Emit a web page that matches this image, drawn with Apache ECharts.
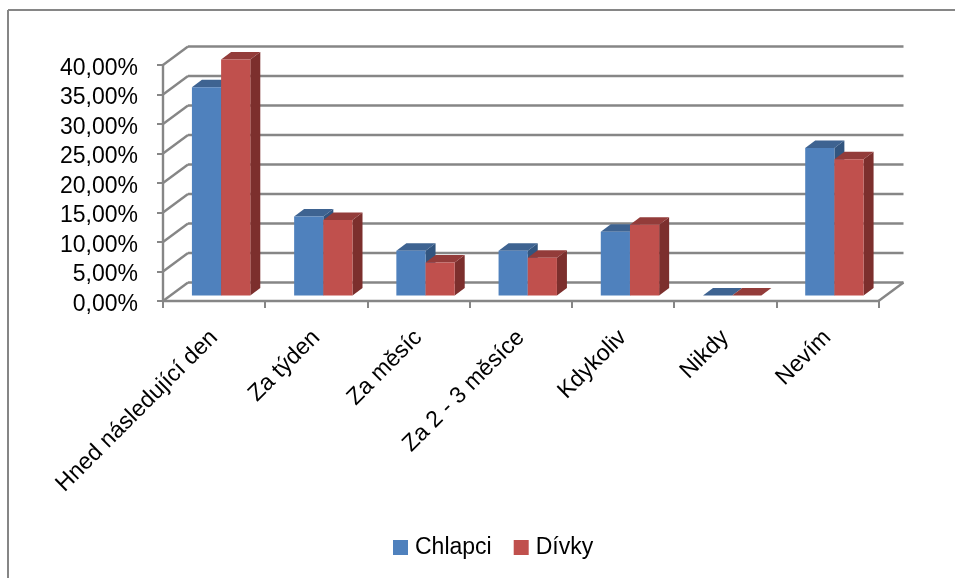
<!DOCTYPE html>
<html>
<head>
<meta charset="utf-8">
<script src="https://cdn.jsdelivr.net/npm/echarts@6/dist/echarts.min.js"></script>
<style>
html,body{margin:0;padding:0;background:#fff}
#chart{width:955px;height:578px}
</style>
</head>
<body>
<div id="chart"></div>
<script>
// Answer shares per time frame, in percent
const categories = ['Hned následující den', 'Za týden', 'Za měsíc', 'Za 2 - 3 měsíce', 'Kdykoliv', 'Nikdy', 'Nevím'];
const chlapci = [35.3, 13.4, 7.6, 7.6, 10.8, 0, 25.0];
const divky = [40.0, 12.8, 5.6, 6.4, 12.0, 0, 23.1];
const yTicks = [0, 5, 10, 15, 20, 25, 30, 35, 40];

// Pseudo-3D projection, in pixels
const WALL_DX = 25, WALL_DY = -18.5;   // front plane to back wall
const BAR_DX = 7, BAR_DY = -5.5;       // front plane to front of the bars
const DEPTH_DX = 10, DEPTH_DY = -7.5;  // depth of a bar
const BAR_SHARE = 0.2855;              // bar width as a share of the category band

const GREY = '#868686';
const FONT = '"Liberation Sans", Arial, sans-serif';
const faces = {
  Chlapci: { front: '#4F81BD', top: '#3E6391', side: '#32557F' },
  'Dívky': { front: '#C0504D', top: '#933C3A', side: '#7C2F2D' }
};

function poly(points, fill) {
  return { type: 'polygon', shape: { points }, style: { fill, stroke: null } };
}

// Slanted side-wall segment and back-wall gridline for one tick
function renderWall(params, api) {
  const p = api.coord([0, api.value(0)]);
  const sys = params.coordSys;
  const y = p[1];
  const line = (x1, y1, x2, y2) => ({
    type: 'line',
    shape: { x1, y1, x2, y2 },
    style: { stroke: GREY, lineWidth: 2.4 }
  });
  const kids = [
    line(sys.x, y, sys.x + WALL_DX, y + WALL_DY),
    line(sys.x + WALL_DX, y + WALL_DY, sys.x + sys.width + WALL_DX, y + WALL_DY)
  ];
  if (params.dataIndex === 0) {
    kids.push(line(sys.x + sys.width, y, sys.x + sys.width + WALL_DX, y + WALL_DY));
  }
  return { type: 'group', children: kids };
}

// One cuboid bar: side, top and front faces
function barRenderer(name, slot) {
  const c = faces[name];
  return function (params, api) {
    const i = api.value(0);
    const top = api.coord([i, api.value(1)]);
    const base = api.coord([i, 0]);
    const w = api.size([1, 0])[0] * BAR_SHARE;
    const x0 = top[0] + slot * w + BAR_DX;
    const x1 = x0 + w;
    const yt = top[1] + BAR_DY;
    const yb = base[1] + BAR_DY;
    const kids = [];
    if (yb - yt > 0.5) {
      kids.push(poly([[x1, yt], [x1 + DEPTH_DX, yt + DEPTH_DY], [x1 + DEPTH_DX, yb + DEPTH_DY], [x1, yb]], c.side));
    }
    kids.push(poly([[x0, yt], [x0 + DEPTH_DX, yt + DEPTH_DY], [x1 + DEPTH_DX, yt + DEPTH_DY], [x1, yt]], c.top));
    if (yb - yt > 0.5) {
      kids.push({ type: 'rect', shape: { x: x0, y: yt, width: w, height: yb - yt }, style: { fill: c.front } });
    }
    return { type: 'group', children: kids };
  };
}

const chart = echarts.init(document.getElementById('chart'), null, { renderer: 'canvas' });
chart.setOption({
  animation: false,
  backgroundColor: '#fff',
  textStyle: { fontFamily: FONT },
  grid: { left: 163, right: 76.5, top: 65, bottom: 277, containLabel: false },
  graphic: [
    { type: 'line', silent: true, shape: { x1: 8, y1: 10, x2: 955, y2: 10 }, style: { stroke: GREY, lineWidth: 2 } },
    { type: 'line', silent: true, shape: { x1: 8, y1: 10, x2: 8, y2: 578 }, style: { stroke: GREY, lineWidth: 2 } }
  ],
  legend: {
    left: 388,
    top: 531,
    itemWidth: 15,
    itemHeight: 15,
    itemGap: 22,
    icon: 'rect',
    data: ['Chlapci', 'Dívky'],
    selectedMode: false,
    textStyle: { fontSize: 23, color: '#000', fontFamily: FONT, padding: [0, 0, 0, 2] }
  },
  xAxis: {
    type: 'category',
    data: categories,
    axisLine: { lineStyle: { color: GREY, width: 2.4 } },
    axisTick: { show: true, length: 7, lineStyle: { color: GREY, width: 2 } },
    axisLabel: { interval: 0, rotate: 45, margin: 33, fontSize: 23.2, color: '#000', fontFamily: FONT },
    splitLine: { show: false }
  },
  yAxis: {
    type: 'value',
    min: 0,
    max: 40,
    interval: 5,
    axisLine: { show: true, lineStyle: { color: GREY, width: 2.4 } },
    axisTick: { show: true, length: 6, lineStyle: { color: GREY, width: 2 } },
    axisLabel: {
      margin: 25,
      fontSize: 23,
      color: '#000',
      fontFamily: FONT,
      verticalAlign: 'top',
      lineHeight: 7,
      formatter: v => v.toFixed(2).replace('.', ',') + '%'
    },
    splitLine: { show: false }
  },
  series: [
    {
      type: 'custom',
      name: 'wall',
      silent: true,
      z: 1,
      clip: false,
      renderItem: renderWall,
      data: yTicks.map(t => [t]),
      encode: { y: 0 }
    },
    {
      type: 'custom',
      name: 'Chlapci',
      z: 3,
      clip: false,
      itemStyle: { color: faces.Chlapci.front },
      renderItem: barRenderer('Chlapci', -1),
      data: chlapci.map((v, i) => [i, v]),
      encode: { x: 0, y: 1 }
    },
    {
      type: 'custom',
      name: 'Dívky',
      z: 3,
      clip: false,
      itemStyle: { color: faces['Dívky'].front },
      renderItem: barRenderer('Dívky', 0),
      data: divky.map((v, i) => [i, v]),
      encode: { x: 0, y: 1 }
    }
  ]
});
</script>
</body>
</html>
